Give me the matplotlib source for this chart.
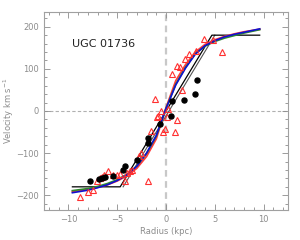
import matplotlib
matplotlib.use("Agg")
import matplotlib.pyplot as plt
from matplotlib.ticker import MultipleLocator

# rotation curve data
dots_r = [-7.75, -6.9, -6.6, -6.3, -5.4, -4.4, -4.2, -3.0, -1.9, -1.8, -0.6, 0.55, 0.6, 1.8, 2.95, 3.15]
dots_v = [-165, -161, -158, -157, -155, -140, -130, -116, -77, -65, -32, -12, 24, 25, 40, 73]

tri_r = [-8.8, -8.0, -7.5, -7.1, -6.8, -6.6, -6.4, -5.9, -5.4, -5.0, -4.7, -4.2, -4.05, -3.7,
         -3.5, -2.8, -2.6, -1.9, -1.58, -0.9, -0.8, -0.28, -0.07, 0.14, 0.93, 1.17,
         -1.16, -0.55, 0.24, 0.59, 1.1, 1.44, 1.68, 1.93, 2.37, 3.06, 3.9, 4.77, 5.7]
tri_v = [-203, -192, -187, -165, -160, -157, -153, -143, -152, -151, -150, -166, -147, -143,
         -140, -106, -100, -166, -48, -14, -12, -50, -42, -14, -51, -22,
         29, 0, 4, 89, 107, 104, 51, 124, 136, 142, 170, 168, 141]

# model curves
model_r = [-9.6, -8, -7, -6, -5, -4, -3, -2, -1, 0, 1, 2, 3, 4, 5, 6, 7, 8, 9.6]
blue_v = [-194, -188, -182, -175, -165, -151, -131, -100, -58, 6, 62, 102, 135, 155, 167, 176, 182, 187, 195]
green_v = [-189, -184, -179, -172, -163, -150, -131, -101, -60, 6, 64, 104, 136, 154, 165, 173, 179, 185, 193]
red_v = [-191, -186, -181, -175, -166, -154, -136, -108, -66, 8, 72, 110, 140, 158, 169, 177, 183, 188, 194]

step_r = [-9.6, -4.7, 4.7, 9.6]
step_v = [-180, -180, 180, 180]
step2_r = [-4.4, 5.0]
step2_v = [-180, 180]

gray = "#8c8c8c"

fig = plt.figure(figsize=(3.0, 2.4), dpi=100)
ax = fig.add_axes([0.147, 0.125, 0.813, 0.825])

ax.axvline(0, color="#c8c8c8", ls=(0, (3, 2)), lw=1.6, zorder=1)
ax.axhline(0, color="#b0b0b0", ls=(0, (3, 2)), lw=0.8, zorder=1)

ax.plot(step2_r, step2_v, color="#555555", lw=0.8, zorder=2)
ax.plot(step_r, step_v, color="black", lw=0.9, zorder=2)
ax.plot(model_r, red_v, color="#ff3a3a", lw=1.3, zorder=3)
ax.plot(model_r, green_v, color="#2e8b2e", lw=1.2, zorder=3)
ax.plot(model_r, blue_v, color="#1010d0", lw=1.2, zorder=4)

ax.plot(tri_r, tri_v, ls="none", marker="^", ms=3.8, mfc="none", mec="#ff3030", mew=0.8, zorder=5)
ax.plot(dots_r, dots_v, ls="none", marker="o", ms=3.6, color="black", zorder=6)

ax.text(-9.6, 160, "UGC 01736", fontsize=8, color="#222222", va="center", ha="left")

ax.set_xlim(-12.5, 12.5)
ax.set_ylim(-235, 235)
ax.set_xticks([-10, -5, 0, 5, 10])
ax.set_yticks([-200, -100, 0, 100, 200])
ax.xaxis.set_minor_locator(MultipleLocator(1))
ax.yaxis.set_minor_locator(MultipleLocator(20))
ax.tick_params(which="both", direction="in", top=True, right=True, colors=gray,
               labelcolor=gray, labelsize=6, width=0.6)
ax.tick_params(which="major", length=4)
ax.tick_params(which="minor", length=2)
for s in ax.spines.values():
    s.set_color("#a0a0a0")
    s.set_linewidth(0.8)

ax.set_xlabel("Radius (kpc)", fontsize=6, color=gray, labelpad=2)
ax.set_ylabel("Velocity km s$^{-1}$", fontsize=6, color=gray, va="center")
ax.yaxis.set_label_coords(-0.143, 0.5)

fig.savefig("out.png", dpi=100)
